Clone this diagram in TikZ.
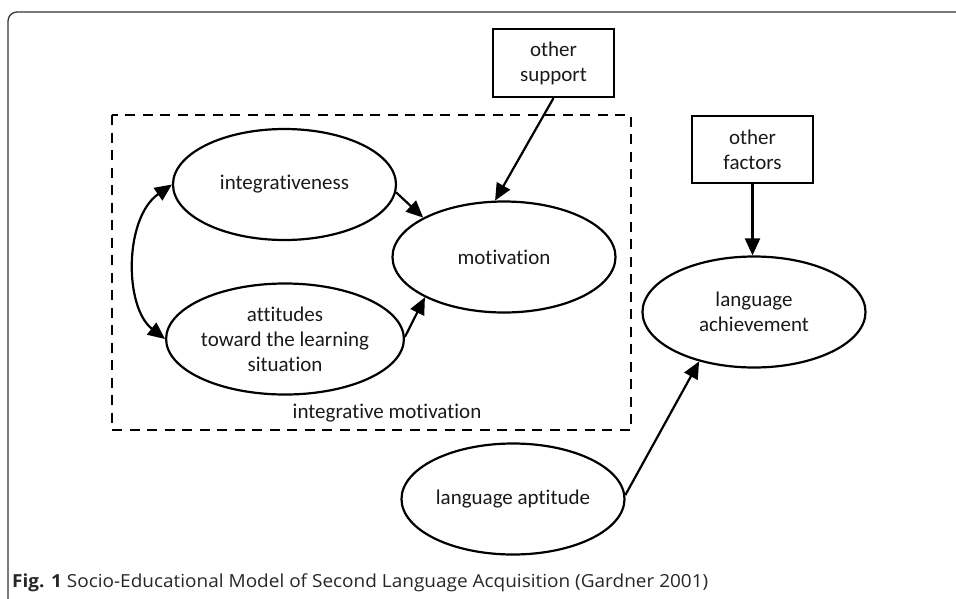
\documentclass[tikz,border=0pt]{standalone}
\usepackage{graphicx}
\usepackage{fontspec}
\setmainfont{Carlito}[Ligatures={NoCommon}]
\newfontfamily\capfont{Open Sans}
\usetikzlibrary{shapes.geometric,arrows.meta}
\begin{document}
\begin{tikzpicture}[x=1pt,y=-1pt,
  lbl/.style={font=\fontsize{21}{25}\selectfont, text=black!90, align=center, inner sep=0pt},
  oval/.style={ellipse, draw, line width=2.2pt, minimum width=223pt, minimum height=111pt, inner sep=0pt, lbl},
  rbox/.style={rectangle, draw, line width=2.2pt, minimum width=121pt, minimum height=68pt, inner sep=0pt, lbl},
  arr/.style={line width=2.2pt, -{Triangle[length=17pt,width=15pt]}},
  darr/.style={line width=2.2pt, {Triangle[length=17pt,width=15pt]}-{Triangle[length=17pt,width=15pt]}},
  dashbox/.style={line width=2.2pt, dash pattern=on 10pt off 7.5pt},
  frame/.style={line width=1.3pt, draw=black!80, rounded corners=9pt}
]
\useasboundingbox (0,0) rectangle (956,598);
\draw[frame] (8,640) -- (8,12) -- (1000,12);

\draw[dashbox] (112,115) rectangle (631,430);
\node[lbl] (im) at (387,413) {integrative motivation};

\node[oval] (integ) at (284.5,184.5) {integrativeness};
\node[oval] (att) at (285,339) {attitudes\\toward the learning\\situation};
\node[oval] (mot) at (504,257) {motivation};
\node[oval] (ach) at (754,312) {language\\achievement};
\node[oval] (apt) at (513,499) {language aptitude};

\node[rbox] (sup) at (553.5,63) {other\\support};
\node[rbox, minimum height=67pt] (fac) at (752.5,149.5) {other\\factors};

\draw[arr] (integ.-4) -- (mot.154);
\draw[arr] (att.1) -- (mot.207);
\draw[arr] (sup.south) -- (mot.99);
\draw[arr] (fac.south) -- (fac.south |- ach.north);
\draw[arr] (apt.2) -- (ach.222);
\draw[darr] (integ.west) .. controls (124,218) and (124,307) .. (att.west);

\node[anchor=base west, inner sep=0pt, text=black!85] (cap) at (12,587) {\resizebox{696pt}{\height}{\capfont\fontsize{18}{20}\selectfont\textbf{Fig. 1} Socio-Educational Model of Second Language Acquisition (Gardner 2001)}};
\end{tikzpicture}
\end{document}
